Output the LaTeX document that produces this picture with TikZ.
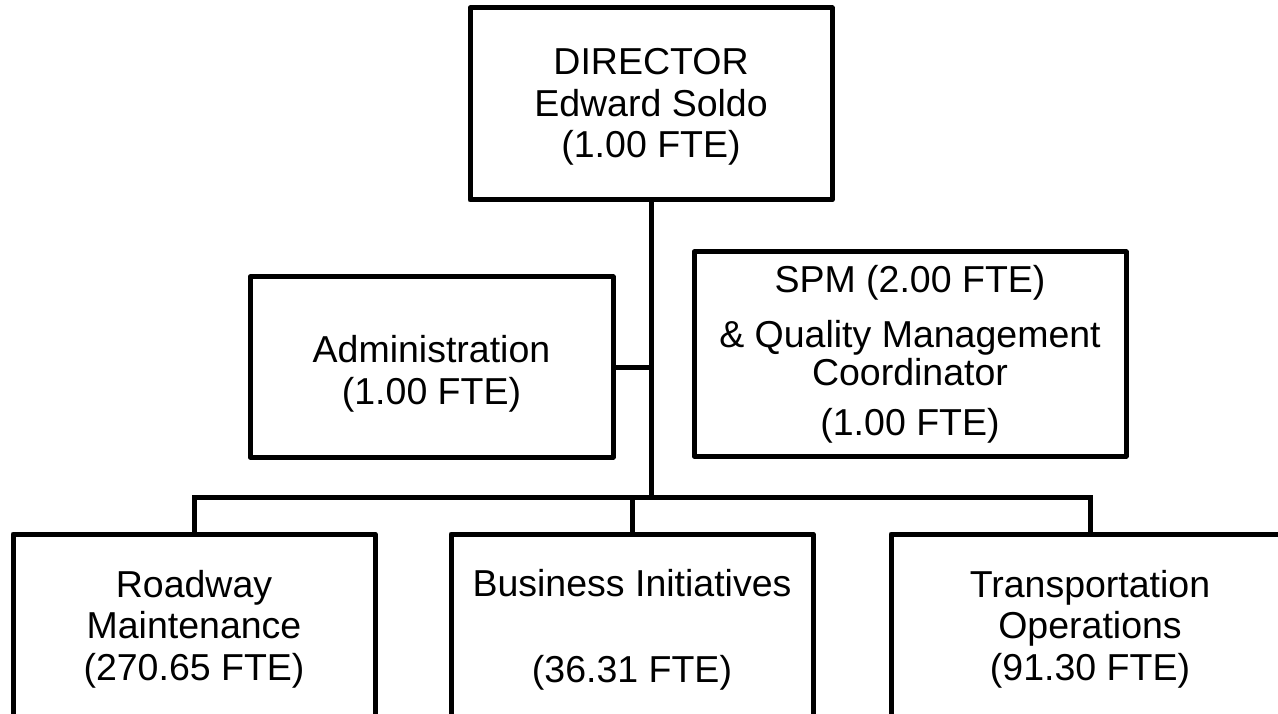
\documentclass[tikz,border=0pt]{standalone}
\usepackage{fontspec}
\setmainfont{Liberation Sans}
\begin{document}
\begin{tikzpicture}[x=1pt,y=-1pt,
  box/.style={draw, rectangle, line width=5pt, inner sep=0pt, line join=round},
  conn/.style={line width=5pt, line join=miter},
  txt/.style={font=\fontsize{37.5}{42}\selectfont, anchor=base, inner sep=0pt}]
\clip (0,0) rectangle (1278,714);
\fill[white] (0,0) rectangle (1278,714);
% boxes
\node[box, minimum width=362pt, minimum height=192pt] (dir) at (651,104) {};
\node[box, minimum width=363pt, minimum height=180pt] (admin) at (431.5,367) {};
\node[box, minimum width=432pt, minimum height=204pt] (spm) at (910,354) {};
\node[box, minimum width=362pt, minimum height=182pt] (road) at (194,625) {};
\node[box, minimum width=362pt, minimum height=182pt] (bus) at (632,625) {};
\node[box, minimum width=398pt, minimum height=182pt] (trans) at (1090,625) {};
% texts
\node[txt] (d1) at (651,75) {DIRECTOR};
\node[txt] (d2) at (651,116.5) {Edward Soldo};
\node[txt] (d3) at (651,158) {(1.00 FTE)};
\node[txt] (a1) at (431.5,362) {Administration};
\node[txt] (a2) at (431.5,404) {(1.00 FTE)};
\node[txt] (s1) at (910,293) {SPM (2.00 FTE)};
\node[txt] (s2) at (910,348) {\& Quality Management};
\node[txt] (s3) at (910,385) {Coordinator};
\node[txt] (s4) at (910,435) {(1.00 FTE)};
\node[txt] (r1) at (194,597) {Roadway};
\node[txt] (r2) at (194,638.5) {Maintenance};
\node[txt] (r3) at (194,680) {(270.65 FTE)};
\node[txt] (b1) at (632,596) {Business Initiatives};
\node[txt] (b2) at (632,682) {(36.31 FTE)};
\node[txt] (t1) at (1090,597) {Transportation};
\node[txt] (t2) at (1090,638.5) {Operations};
\node[txt] (t3) at (1090,680) {(91.30 FTE)};
% connectors
\coordinate (jB) at (651,497);
\coordinate (jL) at (194,497);
\coordinate (jM) at (632,497);
\coordinate (jR) at (1090,497);
\coordinate (jA) at (651,367);
\draw[conn] (dir.south) -- (jB);
\draw[conn] (admin.east) -- (jA);
\draw[conn] (road.north) -- (jL) -- (jR) -- (trans.north);
\draw[conn] (jM) -- (bus.north);
\end{tikzpicture}
\end{document}
